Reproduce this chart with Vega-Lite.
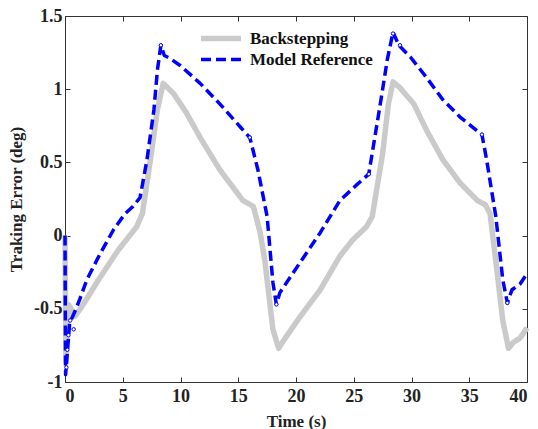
{
  "$schema": "https://vega.github.io/schema/vega-lite/v6.json",
  "width": 462,
  "height": 366,
  "autosize": "none",
  "padding": {"left": 65, "top": 16, "right": 11, "bottom": 47},
  "background": "white",
  "config": {
    "font": "Liberation Serif",
    "view": {"stroke": "#333333", "strokeWidth": 1},
    "axis": {
      "grid": false,
      "domainColor": "#333333",
      "tickColor": "#333333",
      "tickSize": -5,
      "labelFont": "Liberation Serif",
      "labelFontWeight": "bold",
      "labelFontSize": 18,
      "labelColor": "#222222",
      "titleFont": "Liberation Serif",
      "titleFontWeight": "bold",
      "titleFontSize": 17,
      "titleColor": "#222222"
    }
  },
  "datasets": {
    "lines": [
      {"t": 0, "v": 0, "s": "Backstepping"},
      {"t": 0.08, "v": -0.86, "s": "Backstepping"},
      {"t": 0.3, "v": -0.47, "s": "Backstepping"},
      {"t": 0.87, "v": -0.55, "s": "Backstepping"},
      {"t": 1.5, "v": -0.48, "s": "Backstepping"},
      {"t": 3.0, "v": -0.29, "s": "Backstepping"},
      {"t": 4.6, "v": -0.1, "s": "Backstepping"},
      {"t": 6.2, "v": 0.06, "s": "Backstepping"},
      {"t": 6.7, "v": 0.15, "s": "Backstepping"},
      {"t": 7.4, "v": 0.52, "s": "Backstepping"},
      {"t": 8.0, "v": 0.86, "s": "Backstepping"},
      {"t": 8.5, "v": 1.04, "s": "Backstepping"},
      {"t": 9.4, "v": 0.97, "s": "Backstepping"},
      {"t": 10.5, "v": 0.84, "s": "Backstepping"},
      {"t": 11.7, "v": 0.67, "s": "Backstepping"},
      {"t": 13.4, "v": 0.45, "s": "Backstepping"},
      {"t": 15.4, "v": 0.24, "s": "Backstepping"},
      {"t": 16.3, "v": 0.2, "s": "Backstepping"},
      {"t": 16.9, "v": 0.02, "s": "Backstepping"},
      {"t": 17.3, "v": -0.17, "s": "Backstepping"},
      {"t": 18.0, "v": -0.64, "s": "Backstepping"},
      {"t": 18.5, "v": -0.77, "s": "Backstepping"},
      {"t": 18.9, "v": -0.72, "s": "Backstepping"},
      {"t": 20.3, "v": -0.56, "s": "Backstepping"},
      {"t": 22.1, "v": -0.37, "s": "Backstepping"},
      {"t": 23.8, "v": -0.14, "s": "Backstepping"},
      {"t": 24.9, "v": -0.03, "s": "Backstepping"},
      {"t": 26.1, "v": 0.06, "s": "Backstepping"},
      {"t": 26.6, "v": 0.13, "s": "Backstepping"},
      {"t": 27.5, "v": 0.56, "s": "Backstepping"},
      {"t": 28.0, "v": 0.9, "s": "Backstepping"},
      {"t": 28.4, "v": 1.05, "s": "Backstepping"},
      {"t": 29.0, "v": 1.01, "s": "Backstepping"},
      {"t": 30.2, "v": 0.9, "s": "Backstepping"},
      {"t": 31.3, "v": 0.72, "s": "Backstepping"},
      {"t": 32.7, "v": 0.52, "s": "Backstepping"},
      {"t": 34.2, "v": 0.36, "s": "Backstepping"},
      {"t": 35.7, "v": 0.24, "s": "Backstepping"},
      {"t": 36.4, "v": 0.21, "s": "Backstepping"},
      {"t": 36.8, "v": 0.15, "s": "Backstepping"},
      {"t": 37.4, "v": -0.24, "s": "Backstepping"},
      {"t": 37.9, "v": -0.58, "s": "Backstepping"},
      {"t": 38.4, "v": -0.77, "s": "Backstepping"},
      {"t": 38.8, "v": -0.73, "s": "Backstepping"},
      {"t": 39.4, "v": -0.7, "s": "Backstepping"},
      {"t": 40, "v": -0.63, "s": "Backstepping"},
      {"t": 0, "v": 0, "s": "Model Reference"},
      {"t": 0.05, "v": -0.95, "s": "Model Reference"},
      {"t": 0.4, "v": -0.6, "s": "Model Reference"},
      {"t": 0.9, "v": -0.51, "s": "Model Reference"},
      {"t": 1.3, "v": -0.43, "s": "Model Reference"},
      {"t": 1.9, "v": -0.3, "s": "Model Reference"},
      {"t": 3.0, "v": -0.13, "s": "Model Reference"},
      {"t": 4.2, "v": 0.04, "s": "Model Reference"},
      {"t": 5.2, "v": 0.15, "s": "Model Reference"},
      {"t": 5.9, "v": 0.2, "s": "Model Reference"},
      {"t": 6.5, "v": 0.26, "s": "Model Reference"},
      {"t": 7.1, "v": 0.52, "s": "Model Reference"},
      {"t": 7.7, "v": 0.86, "s": "Model Reference"},
      {"t": 8.0, "v": 1.13, "s": "Model Reference"},
      {"t": 8.3, "v": 1.3, "s": "Model Reference"},
      {"t": 8.6, "v": 1.23, "s": "Model Reference"},
      {"t": 9.1, "v": 1.21, "s": "Model Reference"},
      {"t": 10.0, "v": 1.16, "s": "Model Reference"},
      {"t": 11.7, "v": 1.04, "s": "Model Reference"},
      {"t": 13.4, "v": 0.9, "s": "Model Reference"},
      {"t": 15.2, "v": 0.74, "s": "Model Reference"},
      {"t": 16.0, "v": 0.67, "s": "Model Reference"},
      {"t": 16.7, "v": 0.45, "s": "Model Reference"},
      {"t": 17.5, "v": 0.13, "s": "Model Reference"},
      {"t": 18.0, "v": -0.32, "s": "Model Reference"},
      {"t": 18.3, "v": -0.47, "s": "Model Reference"},
      {"t": 18.6, "v": -0.39, "s": "Model Reference"},
      {"t": 20.3, "v": -0.19, "s": "Model Reference"},
      {"t": 22.1, "v": 0.02, "s": "Model Reference"},
      {"t": 23.8, "v": 0.24, "s": "Model Reference"},
      {"t": 25.3, "v": 0.35, "s": "Model Reference"},
      {"t": 26.3, "v": 0.42, "s": "Model Reference"},
      {"t": 27.3, "v": 0.9, "s": "Model Reference"},
      {"t": 27.9, "v": 1.2, "s": "Model Reference"},
      {"t": 28.4, "v": 1.39, "s": "Model Reference"},
      {"t": 28.9, "v": 1.3, "s": "Model Reference"},
      {"t": 29.9, "v": 1.22, "s": "Model Reference"},
      {"t": 31.3, "v": 1.08, "s": "Model Reference"},
      {"t": 32.7, "v": 0.93, "s": "Model Reference"},
      {"t": 34.2, "v": 0.81, "s": "Model Reference"},
      {"t": 36.1, "v": 0.69, "s": "Model Reference"},
      {"t": 36.5, "v": 0.52, "s": "Model Reference"},
      {"t": 37.3, "v": 0.13, "s": "Model Reference"},
      {"t": 37.9, "v": -0.3, "s": "Model Reference"},
      {"t": 38.3, "v": -0.46, "s": "Model Reference"},
      {"t": 38.7, "v": -0.37, "s": "Model Reference"},
      {"t": 39.4, "v": -0.33, "s": "Model Reference"},
      {"t": 40, "v": -0.26, "s": "Model Reference"}
    ],
    "markers": [
      {"t": 0.12, "v": -0.9},
      {"t": 0.2, "v": -0.78},
      {"t": 0.3, "v": -0.68},
      {"t": 0.45, "v": -0.58},
      {"t": 0.75, "v": -0.64},
      {"t": 8.3, "v": 1.3},
      {"t": 16.0, "v": 0.67},
      {"t": 18.3, "v": -0.47},
      {"t": 26.3, "v": 0.42},
      {"t": 28.4, "v": 1.38},
      {"t": 29.0, "v": 1.3},
      {"t": 36.1, "v": 0.69},
      {"t": 38.3, "v": -0.46}
    ]
  },
  "layer": [
    {
      "data": {"name": "lines"},
      "mark": {"type": "line", "interpolate": "linear", "strokeJoin": "round"},
      "encoding": {
        "x": {
          "field": "t", "type": "quantitative",
          "scale": {"domain": [0, 40], "nice": false},
          "axis": {"values": [0, 5, 10, 15, 20, 25, 30, 35, 40], "title": "Time (s)", "labelPadding": 10, "titlePadding": 8}
        },
        "y": {
          "field": "v", "type": "quantitative",
          "scale": {"domain": [-1, 1.5], "nice": false},
          "axis": {"values": [-1, -0.5, 0, 0.5, 1, 1.5], "labelExpr": "datum.value + ''", "title": "Traking Error (deg)", "labelPadding": 8, "titlePadding": 8}
        },
        "color": {
          "field": "s", "type": "nominal",
          "scale": {"domain": ["Backstepping", "Model Reference"], "range": ["#cacaca", "#0000ff"]},
          "legend": {
            "title": null, "orient": "none", "legendX": 133, "legendY": 12,
            "symbolType": "stroke", "symbolSize": 1600, "symbolStrokeWidth": 5,
            "clipHeight": 21,
            "labelFont": "Liberation Serif", "labelFontWeight": "bold", "labelFontSize": 17, "labelColor": "#111111",
            "rowPadding": 0, "labelOffset": 6
          }
        },
        "strokeDash": {
          "field": "s", "type": "nominal",
          "scale": {"domain": ["Backstepping", "Model Reference"], "range": [[1, 0], [10, 5]]},
          "legend": null
        },
        "strokeWidth": {
          "field": "s", "type": "nominal",
          "scale": {"domain": ["Backstepping", "Model Reference"], "range": [5.5, 3.5]},
          "legend": null
        }
      }
    },
    {
      "data": {"name": "markers"},
      "mark": {"type": "point", "shape": "circle", "filled": false, "color": "#0000ff", "size": 12, "strokeWidth": 1, "fill": "white", "fillOpacity": 1},
      "encoding": {
        "x": {"field": "t", "type": "quantitative", "axis": {"orient": "top", "values": [0, 5, 10, 15, 20, 25, 30, 35, 40], "labels": false, "title": null, "domain": false}},
        "y": {"field": "v", "type": "quantitative", "axis": {"orient": "right", "values": [-1, -0.5, 0, 0.5, 1, 1.5], "labels": false, "title": null, "domain": false}}
      }
    }
  ],
  "resolve": {"axis": {"x": "independent", "y": "independent"}}
}
